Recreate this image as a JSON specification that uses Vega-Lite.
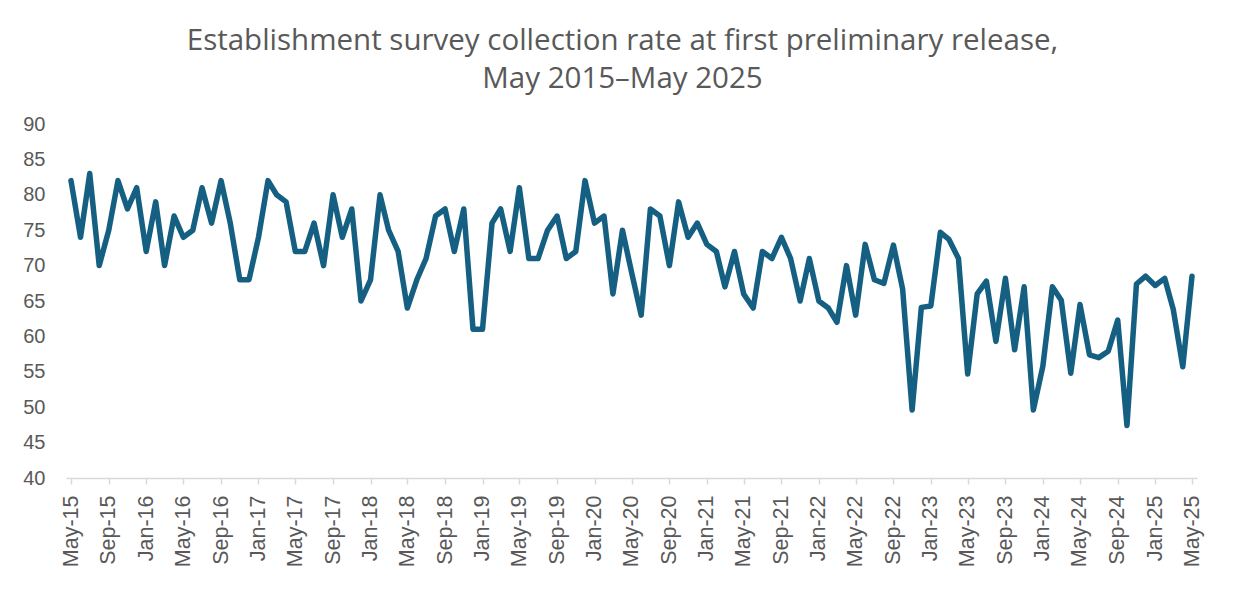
{
  "$schema": "https://vega.github.io/schema/vega-lite/v6.json",
  "width": 1131,
  "height": 354,
  "autosize": {"type": "none"},
  "padding": {"left": 66, "top": 124, "right": 52, "bottom": 119},
  "background": "white",
  "title": {
    "text": ["Establishment survey collection rate at first preliminary release,", "May 2015–May 2025"],
    "font": "Open Sans",
    "fontSize": 29.5,
    "fontWeight": "normal",
    "color": "#595959",
    "lineHeight": 38,
    "anchor": "middle",
    "dx": -9,
    "offset": 20
  },
  "config": {
    "view": {"stroke": null},
    "axis": {"labelFont": "Liberation Sans", "labelColor": "#595959", "grid": false}
  },
  "data": {
    "values": [
      {"month": "2015-05-01", "rate": 82}, {"month": "2015-06-01", "rate": 74}, {"month": "2015-07-01", "rate": 83}, {"month": "2015-08-01", "rate": 70},
      {"month": "2015-09-01", "rate": 75}, {"month": "2015-10-01", "rate": 82}, {"month": "2015-11-01", "rate": 78}, {"month": "2015-12-01", "rate": 81},
      {"month": "2016-01-01", "rate": 72}, {"month": "2016-02-01", "rate": 79}, {"month": "2016-03-01", "rate": 70}, {"month": "2016-04-01", "rate": 77},
      {"month": "2016-05-01", "rate": 74}, {"month": "2016-06-01", "rate": 75}, {"month": "2016-07-01", "rate": 81}, {"month": "2016-08-01", "rate": 76},
      {"month": "2016-09-01", "rate": 82}, {"month": "2016-10-01", "rate": 76}, {"month": "2016-11-01", "rate": 68}, {"month": "2016-12-01", "rate": 68},
      {"month": "2017-01-01", "rate": 74}, {"month": "2017-02-01", "rate": 82}, {"month": "2017-03-01", "rate": 80}, {"month": "2017-04-01", "rate": 79},
      {"month": "2017-05-01", "rate": 72}, {"month": "2017-06-01", "rate": 72}, {"month": "2017-07-01", "rate": 76}, {"month": "2017-08-01", "rate": 70},
      {"month": "2017-09-01", "rate": 80}, {"month": "2017-10-01", "rate": 74}, {"month": "2017-11-01", "rate": 78}, {"month": "2017-12-01", "rate": 65},
      {"month": "2018-01-01", "rate": 68}, {"month": "2018-02-01", "rate": 80}, {"month": "2018-03-01", "rate": 75}, {"month": "2018-04-01", "rate": 72},
      {"month": "2018-05-01", "rate": 64}, {"month": "2018-06-01", "rate": 68}, {"month": "2018-07-01", "rate": 71}, {"month": "2018-08-01", "rate": 77},
      {"month": "2018-09-01", "rate": 78}, {"month": "2018-10-01", "rate": 72}, {"month": "2018-11-01", "rate": 78}, {"month": "2018-12-01", "rate": 61},
      {"month": "2019-01-01", "rate": 61}, {"month": "2019-02-01", "rate": 76}, {"month": "2019-03-01", "rate": 78}, {"month": "2019-04-01", "rate": 72},
      {"month": "2019-05-01", "rate": 81}, {"month": "2019-06-01", "rate": 71}, {"month": "2019-07-01", "rate": 71}, {"month": "2019-08-01", "rate": 75},
      {"month": "2019-09-01", "rate": 77}, {"month": "2019-10-01", "rate": 71}, {"month": "2019-11-01", "rate": 72}, {"month": "2019-12-01", "rate": 82},
      {"month": "2020-01-01", "rate": 76}, {"month": "2020-02-01", "rate": 77}, {"month": "2020-03-01", "rate": 66}, {"month": "2020-04-01", "rate": 75},
      {"month": "2020-05-01", "rate": 69}, {"month": "2020-06-01", "rate": 63}, {"month": "2020-07-01", "rate": 78}, {"month": "2020-08-01", "rate": 77},
      {"month": "2020-09-01", "rate": 70}, {"month": "2020-10-01", "rate": 79}, {"month": "2020-11-01", "rate": 74}, {"month": "2020-12-01", "rate": 76},
      {"month": "2021-01-01", "rate": 73}, {"month": "2021-02-01", "rate": 72}, {"month": "2021-03-01", "rate": 67}, {"month": "2021-04-01", "rate": 72},
      {"month": "2021-05-01", "rate": 66}, {"month": "2021-06-01", "rate": 64}, {"month": "2021-07-01", "rate": 72}, {"month": "2021-08-01", "rate": 71},
      {"month": "2021-09-01", "rate": 74}, {"month": "2021-10-01", "rate": 71}, {"month": "2021-11-01", "rate": 65}, {"month": "2021-12-01", "rate": 71},
      {"month": "2022-01-01", "rate": 65}, {"month": "2022-02-01", "rate": 64}, {"month": "2022-03-01", "rate": 62}, {"month": "2022-04-01", "rate": 70},
      {"month": "2022-05-01", "rate": 63}, {"month": "2022-06-01", "rate": 73}, {"month": "2022-07-01", "rate": 68}, {"month": "2022-08-01", "rate": 67.5},
      {"month": "2022-09-01", "rate": 72.9}, {"month": "2022-10-01", "rate": 66.7}, {"month": "2022-11-01", "rate": 49.6}, {"month": "2022-12-01", "rate": 64.1},
      {"month": "2023-01-01", "rate": 64.3}, {"month": "2023-02-01", "rate": 74.7}, {"month": "2023-03-01", "rate": 73.7}, {"month": "2023-04-01", "rate": 71},
      {"month": "2023-05-01", "rate": 54.7}, {"month": "2023-06-01", "rate": 66}, {"month": "2023-07-01", "rate": 67.8}, {"month": "2023-08-01", "rate": 59.3},
      {"month": "2023-09-01", "rate": 68.2}, {"month": "2023-10-01", "rate": 58.1}, {"month": "2023-11-01", "rate": 67}, {"month": "2023-12-01", "rate": 49.6},
      {"month": "2024-01-01", "rate": 55.8}, {"month": "2024-02-01", "rate": 67}, {"month": "2024-03-01", "rate": 65.1}, {"month": "2024-04-01", "rate": 54.8},
      {"month": "2024-05-01", "rate": 64.5}, {"month": "2024-06-01", "rate": 57.4}, {"month": "2024-07-01", "rate": 57}, {"month": "2024-08-01", "rate": 57.9},
      {"month": "2024-09-01", "rate": 62.3}, {"month": "2024-10-01", "rate": 47.4}, {"month": "2024-11-01", "rate": 67.4}, {"month": "2024-12-01", "rate": 68.5},
      {"month": "2025-01-01", "rate": 67.2}, {"month": "2025-02-01", "rate": 68.2}, {"month": "2025-03-01", "rate": 63.8}, {"month": "2025-04-01", "rate": 55.7},
      {"month": "2025-05-01", "rate": 68.5}
    ]
  },
  "mark": {"type": "line", "color": "#156082", "strokeWidth": 5.5, "strokeJoin": "round", "strokeCap": "round"},
  "encoding": {
    "x": {
      "field": "month",
      "type": "temporal",
      "scale": {"type": "utc", "padding": 5, "nice": false},
      "axis": {
        "title": null,
        "values": [
          {"year": 2015, "month": 5, "date": 1, "utc": true}, {"year": 2015, "month": 9, "date": 1, "utc": true},
          {"year": 2016, "month": 1, "date": 1, "utc": true}, {"year": 2016, "month": 5, "date": 1, "utc": true}, {"year": 2016, "month": 9, "date": 1, "utc": true},
          {"year": 2017, "month": 1, "date": 1, "utc": true}, {"year": 2017, "month": 5, "date": 1, "utc": true}, {"year": 2017, "month": 9, "date": 1, "utc": true},
          {"year": 2018, "month": 1, "date": 1, "utc": true}, {"year": 2018, "month": 5, "date": 1, "utc": true}, {"year": 2018, "month": 9, "date": 1, "utc": true},
          {"year": 2019, "month": 1, "date": 1, "utc": true}, {"year": 2019, "month": 5, "date": 1, "utc": true}, {"year": 2019, "month": 9, "date": 1, "utc": true},
          {"year": 2020, "month": 1, "date": 1, "utc": true}, {"year": 2020, "month": 5, "date": 1, "utc": true}, {"year": 2020, "month": 9, "date": 1, "utc": true},
          {"year": 2021, "month": 1, "date": 1, "utc": true}, {"year": 2021, "month": 5, "date": 1, "utc": true}, {"year": 2021, "month": 9, "date": 1, "utc": true},
          {"year": 2022, "month": 1, "date": 1, "utc": true}, {"year": 2022, "month": 5, "date": 1, "utc": true}, {"year": 2022, "month": 9, "date": 1, "utc": true},
          {"year": 2023, "month": 1, "date": 1, "utc": true}, {"year": 2023, "month": 5, "date": 1, "utc": true}, {"year": 2023, "month": 9, "date": 1, "utc": true},
          {"year": 2024, "month": 1, "date": 1, "utc": true}, {"year": 2024, "month": 5, "date": 1, "utc": true}, {"year": 2024, "month": 9, "date": 1, "utc": true},
          {"year": 2025, "month": 1, "date": 1, "utc": true}, {"year": 2025, "month": 5, "date": 1, "utc": true}
        ],
        "labelExpr": "utcFormat(datum.value, '%b-%y')",
        "labelAngle": -90,
        "labelAlign": "right",
        "labelBaseline": "middle",
        "labelFontSize": 21.5,
        "labelPadding": 11,
        "labelOverlap": false,
        "labelFlush": false,
        "domainColor": "#d9d9d9",
        "domainWidth": 1.5,
        "tickColor": "#d9d9d9",
        "tickWidth": 1.5,
        "tickSize": 6
      }
    },
    "y": {
      "field": "rate",
      "type": "quantitative",
      "scale": {"domain": [40, 90], "nice": false, "zero": false},
      "axis": {
        "title": null,
        "values": [40, 45, 50, 55, 60, 65, 70, 75, 80, 85, 90],
        "domain": false,
        "ticks": false,
        "labelFontSize": 20,
        "labelPadding": 21
      }
    }
  }
}
